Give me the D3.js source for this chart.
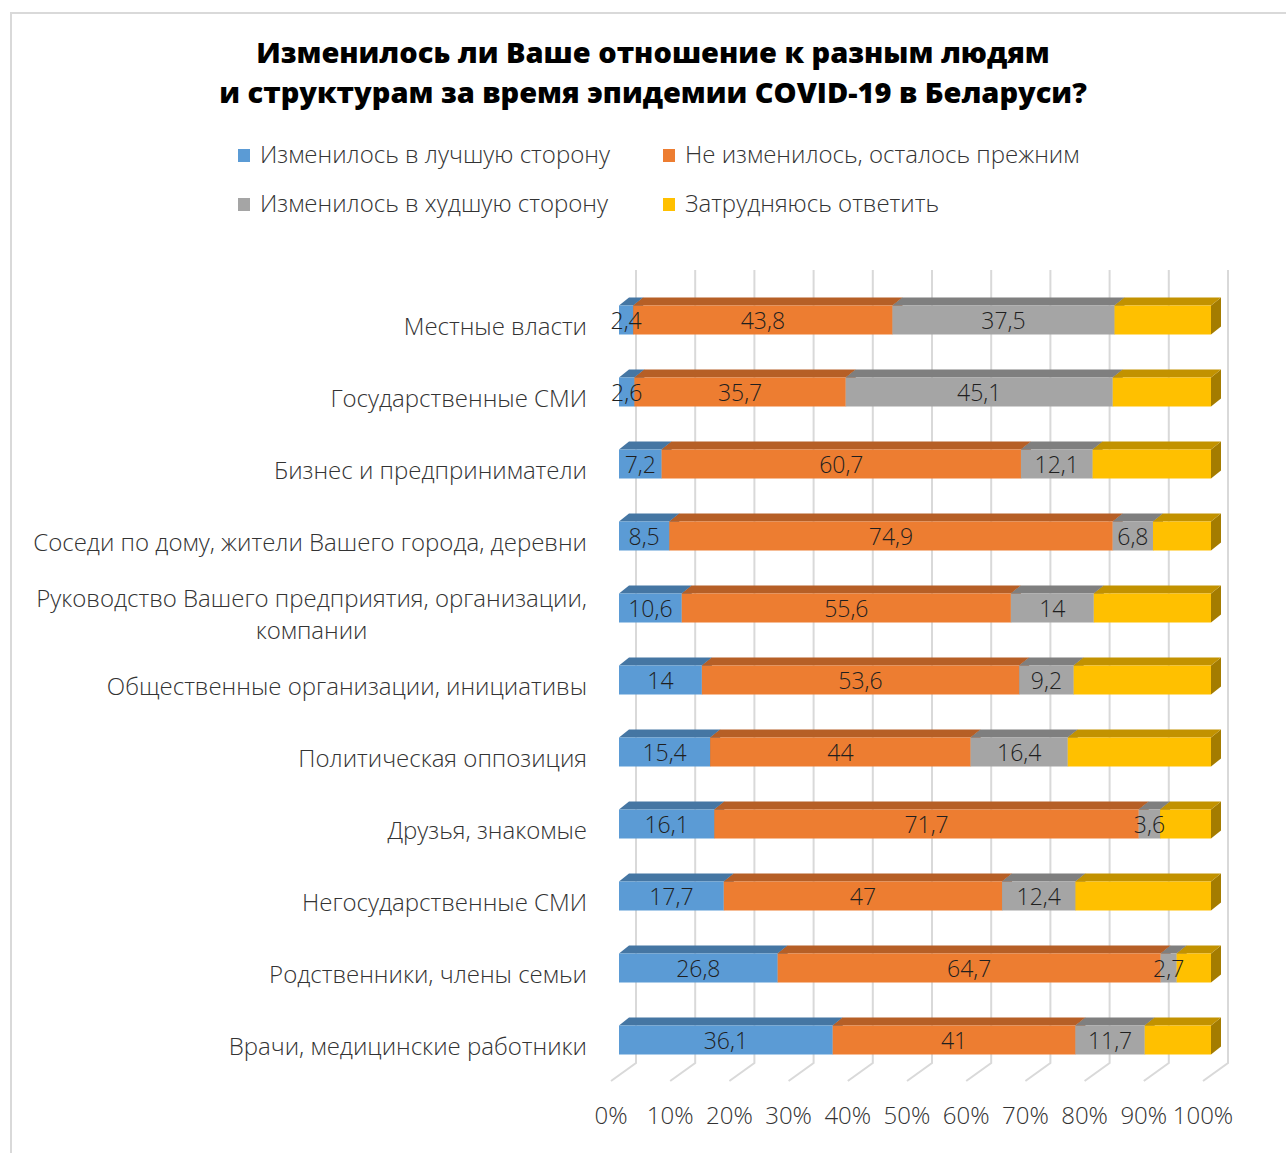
<!DOCTYPE html>
<html>
<head>
<meta charset="utf-8">
<script src="https://cdn.jsdelivr.net/npm/d3@7"></script>
<style>
  html, body { margin: 0; padding: 0; background: #fff; }
  svg { display: block; font-family: "Open Sans", sans-serif; }
</style>
</head>
<body>
<script>
const categories = [
  ["Местные власти"],
  ["Государственные СМИ"],
  ["Бизнес и предприниматели"],
  ["Соседи по дому, жители Вашего города, деревни"],
  ["Руководство Вашего предприятия, организации,", "компании"],
  ["Общественные организации, инициативы"],
  ["Политическая оппозиция"],
  ["Друзья, знакомые"],
  ["Негосударственные СМИ"],
  ["Родственники, члены семьи"],
  ["Врачи, медицинские работники"]
];
const better   = [2.4, 2.6, 7.2, 8.5, 10.6, 14, 15.4, 16.1, 17.7, 26.8, 36.1];
const same     = [43.8, 35.7, 60.7, 74.9, 55.6, 53.6, 44, 71.7, 47, 64.7, 41];
const worse    = [37.5, 45.1, 12.1, 6.8, 14, 9.2, 16.4, 3.6, 12.4, 2.7, 11.7];
const unsure   = [16.3, 16.6, 20.0, 9.8, 19.8, 23.2, 24.2, 8.6, 22.9, 5.8, 11.2];
const seriesNames = ["Изменилось в лучшую сторону", "Не изменилось, осталось прежним",
                     "Изменилось в худшую сторону", "Затрудняюсь ответить"];
const ticks = [0, 10, 20, 30, 40, 50, 60, 70, 80, 90, 100];

const frontCol = ["#5b9bd5", "#ed7d31", "#a5a5a5", "#ffc000"];
const topCol   = ["#4576a3", "#b65f26", "#7f7f7f", "#c29200"];
const sideCol  = ["#3a6389", "#9c5120", "#6b6b6b", "#a47c00"];

const W = 1286, H = 1153;
const svg = d3.select("body").append("svg").attr("width", W).attr("height", H);

svg.append("path")
   .attr("d", `M11,${H + 5} L11,13 L${W + 5},13`)
   .attr("fill", "none").attr("stroke", "#d9d9d9").attr("stroke-width", 2);

// title
const title = svg.append("text").attr("text-anchor", "middle")
   .attr("font-size", 29).attr("font-weight", 800).attr("fill", "#000");
title.append("tspan").attr("x", 653).attr("y", 63).text("Изменилось ли Ваше отношение к разным людям");
title.append("tspan").attr("x", 653).attr("y", 103).text("и структурам за время эпидемии COVID-19 в Беларуси?");

// legend
const legendPos = [[238, 155], [663, 155], [238, 204], [663, 204]];
const legend = svg.append("g").selectAll("g").data(seriesNames).join("g")
   .attr("transform", (d, i) => `translate(${legendPos[i][0]},${legendPos[i][1]})`);
legend.append("rect").attr("x", 0).attr("y", -6).attr("width", 12).attr("height", 13)
   .attr("fill", (d, i) => frontCol[i]);
legend.append("text").attr("x", 22).attr("y", 8).attr("font-size", 24).attr("font-weight", 300)
   .attr("fill", "#333").text(d => d);

// scales
const x = d3.scaleLinear().domain([0, 100]).range([619, 1211]);
const y = d3.scalePoint().domain(d3.range(categories.length)).range([320, 1040]);
const depth = {dx: 10, dy: -8};
const wall = {dx: 17, dy: -13};
const floorY = 1063, floorFront = {dx: -8, dy: 18};
const barH = 29;

// gridlines on back wall + floor
const grid = svg.append("g").attr("stroke", "#d9d9d9").attr("stroke-width", 2).attr("fill", "none");
grid.selectAll("path").data(ticks).join("path")
   .attr("d", t => `M${x(t) + wall.dx},270 L${x(t) + wall.dx},${floorY} L${x(t) + floorFront.dx},${floorY + floorFront.dy}`);

svg.append("g").selectAll("text").data(ticks).join("text")
   .attr("x", t => x(t) + floorFront.dx).attr("y", 1124)
   .attr("text-anchor", "middle").attr("font-size", 24).attr("font-weight", 300)
   .attr("fill", "#333").text(t => t + "%");

// stacked bars
const table = categories.map((c, i) => ({i, vals: [better[i], same[i], worse[i], unsure[i]]}));
const segs = [];
table.forEach(r => {
  let acc = 0;
  r.vals.forEach((v, k) => { segs.push({row: r.i, k, v, x0: acc, x1: acc + v}); acc += v; });
});

const bars = svg.append("g").selectAll("g").data(segs).join("g");
bars.each(function (d) {
  const g = d3.select(this);
  const x0 = x(d.x0), x1 = x(d.x1), yt = y(d.row) - barH / 2, yb = yt + barH;
  g.append("path")
   .attr("d", `M${x1},${yt} L${x1 + depth.dx},${yt + depth.dy} L${x1 + depth.dx},${yb + depth.dy} L${x1},${yb}Z`)
   .attr("fill", sideCol[d.k]);
  g.append("path")
   .attr("d", `M${x0},${yt} L${x0 + depth.dx},${yt + depth.dy} L${x1 + depth.dx},${yt + depth.dy} L${x1},${yt}Z`)
   .attr("fill", topCol[d.k]);
  g.append("rect").attr("x", x0).attr("y", yt).attr("width", x1 - x0).attr("height", barH)
   .attr("fill", frontCol[d.k]);
});

// value labels (first three series)
svg.append("g").selectAll("text").data(segs.filter(d => d.k < 3)).join("text")
   .attr("x", d => x((d.x0 + d.x1) / 2)).attr("y", d => y(d.row) + 9)
   .attr("text-anchor", "middle").attr("font-size", 23).attr("font-weight", 300)
   .attr("fill", "#1f1f1f").text(d => String(d.v).replace(".", ","));

// category labels
const labels = svg.append("g").selectAll("text").data(categories).join("text")
   .attr("text-anchor", "middle").attr("font-size", 24).attr("font-weight", 300).attr("fill", "#333");
labels.each(function (lines, i) {
  const t = d3.select(this);
  const tmp = t.append("tspan").text(lines[0]);
  const w = this.getComputedTextLength();
  tmp.remove();
  const cx = 587 - w / 2;
  const cy = y(i) + 7;
  lines.forEach((ln, j) => {
    t.append("tspan").attr("x", cx)
     .attr("y", cy + 8 + (j - (lines.length - 1) / 2) * 32).text(ln);
  });
});
</script>
</body>
</html>
